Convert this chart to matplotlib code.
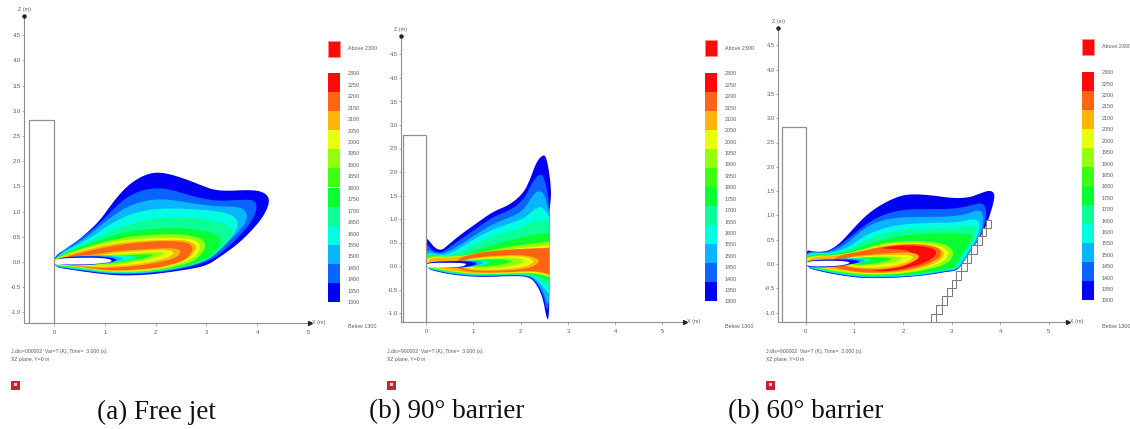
import numpy as np
import matplotlib
matplotlib.use("Agg")
import matplotlib.pyplot as plt
from matplotlib.patches import Rectangle, Polygon

# ---------- colour scale ----------
LEGEND_LABELS = ["2300", "2250", "2200", "2150", "2100", "2050", "2000", "1950", "1900", "1850", "1800",
                 "1750", "1700", "1650", "1600", "1550", "1500", "1450", "1400", "1350", "1300"]
LEGEND_COLORS = ["#ff0a0a", "#ff6414", "#ffb40a", "#e6ff0a", "#96ff0a", "#3cff14",
                 "#0aff32", "#0aff96", "#00ffe0", "#0ab4ff", "#0a64ff", "#0000f5"]
RED, ORANGE, AMBER, YELLOW, LIME, GREEN, GREEN2, MINT, CYAN, SKY, BLUE, NAVY = LEGEND_COLORS
X_TICKS = [0, 1, 2, 3, 4, 5]
Z_TICKS = [-1.0, -0.5, 0.0, 0.5, 1.0, 1.5, 2.0, 2.5, 3.0, 3.5, 4.0, 4.5]
CAPTIONS = ["(a) Free jet", "(b) 90° barrier", "(b) 60° barrier"]
FOOT_IDS = ["J.dis=000002", "J.dis=900002", "J.dis=900002"]
BUILDING_HEIGHT = [2.82, 2.79, 2.82]
BARRIER_X = [2.58, 2.69, 2.80, 2.90, 3.00, 3.10, 3.20, 3.31, 3.41, 3.52, 3.62, 3.72, 3.82]
BARRIER_Z = [-1.2, -1.03, -0.84, -0.66, -0.49, -0.32, -0.15, 0.02, 0.20, 0.39, 0.57, 0.74, 0.91]

# ---------- temperature contours (x, z in metres), outermost first ----------
free_jet = [
 (NAVY, [(0,.12),(.32,.30),(.64,.57),(.91,.83),(1.17,1.20),(1.43,1.50),(1.70,1.69),(1.96,1.78),(2.22,1.76),(2.55,1.66),(2.88,1.53),(3.14,1.43),(3.41,1.41),(3.80,1.43),(4.07,1.41),(4.23,1.30),(4.23,1.13),(4.10,.87),(3.87,.60),(3.60,.34),(3.28,.11),(3.01,-.07),(2.68,-.14),(2.22,-.21),(1.76,-.26),(1.24,-.27),(.71,-.21),(.32,-.15),(0,-.10)]),
 (BLUE, [(0,.11),(.78,.64),(1.30,1.19),(1.60,1.38),(1.89,1.46),(2.22,1.46),(2.68,1.32),(3.14,1.21),(3.61,1.23),(3.93,1.24),(4.01,1.10),(3.90,.80),(3.54,.39),(3.08,0),(2.22,-.20),(1.24,-.26),(.32,-.14),(0,-.09)]),
 (SKY, [(0,.105),(.58,.44),(1.04,.83),(1.43,1.10),(1.83,1.23),(2.22,1.25),(2.68,1.17),(3.21,1.10),(3.67,1.10),(3.80,.97),(3.80,.80),(3.54,.50),(3.21,.21),(3.01,.01),(2.22,-.19),(1.24,-.25),(.32,-.13),(0,-.085)]),
 (CYAN, [(0,.10),(.71,.47),(1.17,.80),(1.63,1.00),(2.16,1.07),(2.75,1.05),(3.28,1.00),(3.51,.93),(3.64,.80),(3.57,.57),(3.28,.24),(2.98,.01),(2.22,-.18),(1.24,-.24),(.32,-.12),(0,-.08)]),
 (MINT, [(0,.095),(.78,.44),(1.24,.67),(1.76,.83),(2.29,.89),(2.88,.87),(3.34,.77),(3.51,.67),(3.51,.50),(3.24,.21),(2.95,-.01),(2.22,-.17),(1.24,-.23),(.32,-.11),(0,-.075)]),
 (GREEN2, [(0,.09),(.84,.42),(1.43,.60),(2.03,.67),(2.62,.67),(3.08,.60),(3.31,.47),(3.21,.24),(2.91,.01),(2.22,-.16),(1.24,-.22),(.38,-.10),(0,-.07)]),
 (LIME, [(.01,.085),(.78,.35),(1.43,.50),(2.03,.55),(2.55,.55),(2.88,.48),(3.01,.34),(2.88,.11),(2.62,-.05),(1.89,-.19),(1.10,-.21),(.38,-.09),(.01,-.065)]),
 (YELLOW, [(.03,.08),(.78,.32),(1.37,.44),(2.03,.48),(2.55,.48),(2.82,.42),(2.90,.30),(2.78,.11),(2.52,-.03),(1.89,-.17),(1.10,-.20),(.38,-.08),(.03,-.06)]),
 (AMBER, [(.04,.08),(.84,.30),(1.43,.40),(2.09,.44),(2.58,.44),(2.76,.37),(2.82,.27),(2.68,.09),(2.45,-.03),(1.89,-.155),(1.04,-.19),(.38,-.07),(.04,-.05)]),
 (ORANGE, [(.12,.08),(.97,.29),(1.57,.38),(2.16,.42),(2.55,.40),(2.70,.34),(2.74,.24),(2.62,.07),(2.39,-.03),(1.89,-.14),(1.04,-.175),(.38,-.065),(.12,-.04)]),
 (AMBER, [(.25,.09),(.78,.15),(1.24,.22),(1.89,.26),(2.36,.28),(2.52,.22),(2.42,.09),(2.16,.01),(1.57,-.09),(.91,-.13),(.38,-.07),(.25,-.03)]),
 (YELLOW, [(.35,.09),(.84,.13),(1.3,.19),(1.89,.23),(2.25,.24),(2.38,.19),(2.25,.09),(2.0,.02),(1.5,-.06),(.91,-.10),(.45,-.06),(.35,-.02)]),
 (LIME, [(.45,.09),(.91,.12),(1.35,.16),(1.85,.19),(2.12,.2),(2.2,.17),(2.05,.1),(1.8,.04),(1.4,-.03),(.95,-.07),(.55,-.05),(.45,-.01)]),
 (GREEN2, [(.5,.09),(.98,.11),(1.4,.13),(1.75,.15),(1.98,.15),(1.85,.09),(1.6,.04),(1.3,-.01),(.98,-.04),(.6,-.04),(.5,-.01)]),
 (CYAN, [(.35,.125),(1.0,.14),(1.4,.12),(1.68,.10),(1.45,.04),(1.15,-.01),(.7,-.05),(.35,-.05)]),
 (SKY, [(.25,.115),(.95,.13),(1.2,.11),(1.42,.07),(1.2,.01),(.8,-.055),(.25,-.055)]),
 (NAVY, [(.05,.10),(.95,.12),(1.28,.05),(1.1,-.02),(.6,-.065),(.05,-.06)]),
 ("white", [(0,.07),(.71,.09),(1.07,.07),(1.16,.02),(1.04,-.02),(.64,-.05),(.18,-.05),(0,-.05)]),
]

barrier_90 = [
 (NAVY, [(0,.61),(.08,.52),(.19,.38),(.33,.33),(.47,.45),(.72,.66),(1.07,.91),(1.42,1.16),(1.77,1.30),(2.06,1.55),(2.20,1.84),(2.34,2.23),(2.49,2.38),(2.55,2.29),(2.62,1.90),(2.65,1.51),(2.61,1.19),(2.61,1.19),(2.61,-.72),(2.59,-1.18),(2.54,-1.07),(2.48,-.72),(2.37,-.44),(2.20,-.23),(1.85,-.21),(1.14,-.24),(.58,-.19),(.23,-.12),(0,-.05)]),
 (BLUE, [(0,.50),(.10,.37),(.19,.30),(.33,.28),(.47,.38),(.72,.56),(1.07,.80),(1.42,1.05),(1.77,1.18),(2.06,1.40),(2.23,1.75),(2.38,1.95),(2.49,1.93),(2.58,1.5),(2.61,1.19),(2.61,1.19),(2.61,-.72),(2.56,-1.0),(2.49,-.66),(2.37,-.40),(2.20,-.22),(1.85,-.195),(1.14,-.225),(.58,-.18),(.23,-.11),(0,-.045)]),
 (SKY, [(0,.37),(.20,.27),(.40,.27),(.72,.45),(1.07,.68),(1.42,.90),(1.77,1.03),(2.06,1.18),(2.25,1.50),(2.38,1.61),(2.50,1.55),(2.61,1.1),(2.61,1.1),(2.61,-.70),(2.57,-.85),(2.50,-.6),(2.37,-.36),(2.20,-.21),(1.85,-.185),(1.14,-.22),(.58,-.17),(.23,-.10),(0,-.04)]),
 (CYAN, [(0,.30),(.30,.22),(.55,.28),(.85,.47),(1.20,.68),(1.55,.83),(1.85,.93),(2.10,1.03),(2.30,1.22),(2.45,1.27),(2.61,1.05),(2.61,1.05),(2.61,-.6),(2.61,-.6),(2.52,-.5),(2.38,-.32),(2.20,-.20),(1.85,-.18),(1.14,-.21),(.58,-.16),(.23,-.09),(0,-.035)]),
 (MINT, [(0,.27),(.35,.2),(.7,.27),(1.0,.45),(1.4,.62),(1.75,.72),(2.05,.82),(2.3,.97),(2.61,.95),(2.61,.95),(2.61,-.45),(2.61,-.45),(2.5,-.38),(2.35,-.26),(2.2,-.19),(1.85,-.175),(1.14,-.20),(.58,-.15),(.23,-.08),(0,-.03)]),
 (GREEN2, [(0,.25),(.4,.19),(.8,.22),(1.2,.38),(1.6,.50),(2.0,.60),(2.3,.68),(2.61,.70),(2.61,.70),(2.61,-.30),(2.61,-.30),(2.4,-.22),(2.2,-.17),(1.85,-.17),(1.14,-.19),(.58,-.14),(.23,-.07),(0,-.025)]),
 (LIME, [(0,.22),(.5,.19),(.9,.24),(1.3,.32),(1.8,.42),(2.2,.48),(2.61,.52),(2.61,.52),(2.61,-.24),(2.61,-.24),(2.4,-.18),(2.2,-.155),(1.85,-.16),(1.14,-.18),(.58,-.13),(.23,-.06),(0,-.02)]),
 (YELLOW, [(0,.20),(.6,.19),(1.0,.24),(1.4,.30),(1.8,.36),(2.2,.40),(2.61,.44),(2.61,.44),(2.61,-.20),(2.61,-.20),(2.4,-.16),(2.2,-.14),(1.85,-.15),(1.14,-.17),(.58,-.12),(.23,-.05),(0,-.015)]),
 (AMBER, [(.05,.18),(.6,.18),(1.0,.24),(1.4,.28),(1.8,.33),(2.2,.36),(2.61,.40),(2.61,.40),(2.61,-.18),(2.61,-.18),(2.4,-.14),(2.2,-.12),(1.85,-.14),(1.14,-.16),(.58,-.11),(.23,-.04),(.05,-.01)]),
 (ORANGE, [(.65,.16),(1.06,.27),(1.50,.33),(2.1,.37),(2.61,.38),(2.61,.38),(2.61,-.19),(2.61,-.19),(2.45,-.13),(2.2,-.10),(1.7,-.13),(1.14,-.14),(.8,-.10),(.65,-.03)]),
 (AMBER, [(.80,.14),(1.2,.20),(1.7,.23),(2.1,.23),(2.35,.17),(2.4,.08),(2.2,-.05),(1.7,-.10),(1.14,-.11),(.8,-.07),(.70,.03)]),
 (YELLOW, [(.85,.13),(1.2,.18),(1.7,.21),(2.05,.20),(2.25,.14),(2.28,.07),(2.05,-.03),(1.7,-.07),(1.14,-.08),(.85,-.05),(.78,.04)]),
 (LIME, [(.9,.13),(1.3,.16),(1.7,.18),(2.0,.16),(2.1,.10),(1.9,.02),(1.6,-.03),(1.14,-.05),(.9,-.02),(.85,.04)]),
 (GREEN2, [(.95,.12),(1.3,.14),(1.65,.14),(1.85,.1),(1.6,.03),(1.2,-.02),(.95,.0),(.9,.05)]),
 (CYAN, [(.7,.115),(1.25,.12),(1.4,.08),(1.2,.02),(.95,-.01),(.7,-.02)]),
 (SKY, [(.5,.11),(1.1,.115),(1.25,.07),(1.05,.0),(.9,-.02),(.5,-.03)]),
 (NAVY, [(0,.09),(.85,.11),(1.12,.06),(.95,-.01),(.5,-.05),(0,-.03)]),
 ("white", [(0,.065),(.55,.07),(.82,.06),(.86,.03),(.75,-.02),(.4,-.04),(0,-.035)]),
]

barrier_60 = [
 (NAVY, [(0,.30),(.16,.25),(.36,.25),(.53,.30),(.74,.46),(.98,.73),(1.25,1.01),(1.53,1.21),(1.87,1.38),(2.14,1.44),(2.55,1.42),(3.04,1.35),(3.38,1.37),(3.58,1.45),(3.79,1.52),(3.89,1.45),(3.87,1.28),(3.80,1.04),(3.72,.80),(3.58,.53),(3.38,.25),(3.21,-.02),(3.10,-.14),(2.90,-.16),(2.62,-.21),(2.21,-.26),(1.66,-.29),(1.12,-.29),(.64,-.22),(.29,-.15),(0,-.07)]),
 (BLUE, [(0,.28),(.4,.23),(.7,.38),(1.0,.63),(1.3,.86),(1.6,1.02),(2.0,1.12),(2.5,1.13),(3.0,1.13),(3.4,1.2),(3.62,1.27),(3.72,1.15),(3.70,.85),(3.58,.53),(3.38,.25),(3.21,-.02),(3.1,-.13),(2.9,-.15),(2.62,-.20),(2.21,-.25),(1.66,-.28),(1.12,-.28),(.64,-.21),(.29,-.14),(0,-.065)]),
 (SKY, [(0,.26),(.45,.22),(.8,.38),(1.1,.65),(1.4,.85),(1.8,.95),(2.3,.97),(2.9,.97),(3.3,1.02),(3.55,1.12),(3.65,1.05),(3.66,.8),(3.56,.53),(3.38,.25),(3.21,-.01),(3.1,-.12),(2.9,-.14),(2.62,-.19),(2.21,-.245),(1.66,-.27),(1.12,-.27),(.64,-.20),(.29,-.13),(0,-.06)]),
 (CYAN, [(0,.24),(.5,.21),(.9,.35),(1.2,.58),(1.6,.74),(2.0,.82),(2.6,.85),(3.1,.85),(3.45,.93),(3.57,.88),(3.58,.72),(3.5,.50),(3.34,.25),(3.19,0),(3.09,-.11),(2.9,-.13),(2.62,-.18),(2.21,-.24),(1.66,-.26),(1.12,-.26),(.64,-.19),(.29,-.12),(0,-.055)]),
 (MINT, [(0,.22),(.55,.2),(.95,.32),(1.3,.52),(1.7,.65),(2.2,.72),(2.8,.74),(3.2,.76),(3.48,.78),(3.52,.68),(3.45,.48),(3.3,.25),(3.17,.02),(3.08,-.1),(2.9,-.12),(2.62,-.17),(2.21,-.23),(1.66,-.25),(1.12,-.25),(.64,-.18),(.29,-.11),(0,-.05)]),
 (GREEN2, [(0,.2),(.6,.19),(1.0,.28),(1.4,.45),(1.8,.55),(2.3,.62),(2.9,.62),(3.3,.62),(3.44,.6),(3.35,.4),(3.2,.2),(3.12,.04),(3.05,-.08),(2.9,-.11),(2.62,-.15),(2.21,-.22),(1.66,-.24),(1.12,-.24),(.64,-.17),(.29,-.10),(0,-.045)]),
 (LIME, [(0,.17),(.65,.18),(1.05,.26),(1.45,.40),(1.9,.47),(2.4,.48),(2.85,.42),(3.05,.28),(3.0,.08),(2.8,-.04),(2.4,-.14),(1.9,-.21),(1.2,-.23),(.64,-.16),(.29,-.09),(0,-.04)]),
 (YELLOW, [(0,.15),(.65,.17),(1.1,.27),(1.5,.38),(1.9,.43),(2.35,.44),(2.75,.38),(2.95,.26),(2.9,.1),(2.7,-.02),(2.3,-.13),(1.8,-.20),(1.2,-.21),(.7,-.14),(.3,-.08),(0,-.035)]),
 (AMBER, [(.05,.14),(.7,.17),(1.15,.27),(1.55,.37),(2.0,.42),(2.4,.42),(2.7,.36),(2.87,.24),(2.8,.1),(2.6,-.01),(2.3,-.11),(1.8,-.185),(1.2,-.195),(.75,-.13),(.3,-.07),(.05,-.03)]),
 (ORANGE, [(.6,.16),(1.2,.27),(1.6,.36),(2.1,.41),(2.5,.39),(2.73,.33),(2.8,.22),(2.72,.1),(2.5,0),(2.2,-.10),(1.7,-.17),(1.2,-.18),(.8,-.12),(.5,-.05)]),
 (RED, [(1.5,.33),(2.0,.39),(2.4,.37),(2.65,.31),(2.7,.22),(2.6,.1),(2.3,-.03),(1.8,-.15),(1.3,-.14),(1.6,-.12),(2.1,-.04),(2.3,.15),(2.1,.29),(1.7,.31)]),
 (AMBER, [(.8,.14),(1.3,.19),(1.8,.23),(2.2,.24),(2.36,.17),(2.25,.05),(1.8,-.09),(1.3,-.11),(.85,-.07),(.75,.03)]),
 (YELLOW, [(.85,.13),(1.3,.17),(1.8,.19),(2.1,.19),(2.24,.14),(2.1,.04),(1.7,-.06),(1.25,-.08),(.9,-.05),(.8,.03)]),
 (LIME, [(.9,.12),(1.35,.15),(1.7,.16),(1.95,.14),(2.0,.11),(1.8,.03),(1.4,-.03),(1,-.04),(.85,.03)]),
 (GREEN2, [(.95,.12),(1.35,.14),(1.65,.13),(1.8,.10),(1.55,.03),(1.2,-.02),(.95,-.01),(.88,.04)]),
 (CYAN, [(.7,.115),(1.2,.12),(1.38,.09),(1.2,.03),(.95,.0),(.7,-.02)]),
 (SKY, [(.5,.11),(1.1,.115),(1.26,.07),(1.1,.02),(.9,.0),(.5,-.04)]),
 (NAVY, [(0,.085),(.88,.1),(1.16,.06),(.98,0),(.5,-.07),(0,-.07)]),
 ("white", [(0,.06),(.6,.07),(.88,.05),(.91,.02),(.8,-.02),(.5,-.05),(0,-.05)]),
]
CONTOURS = [free_jet, barrier_90, barrier_60]

# ---------- layout (pixels of the figure, not data) ----------
W, H = 1130, 429
PANELS = [
 dict(x0=54, sx=50.8, z0=262, sz=50.4, left=24, right=310, top=16, bottom=322.5,
      sw=328, bar=(73, 302), above=(41, 57), foot=11),
 dict(x0=426, sx=47.3, z0=266, sz=47.0, left=401, right=685, top=36, bottom=322,
      sw=705, bar=(73, 301), above=(40, 56), foot=387),
 dict(x0=805.7, sx=48.6, z0=264, sz=48.6, left=778, right=1068, top=28, bottom=322,
      sw=1082, bar=(72, 300), above=(39, 55), foot=766),
]
CAPTION_X = [97, 369, 728]
GREY = "#8f8f8f"
SANS = "Liberation Sans"
TXT = "#5c5c5c"


def smooth(points, rounds=3):
    pts = np.asarray(points, float)
    for _ in range(rounds):
        nxt = np.roll(pts, -1, axis=0)
        q = 0.75 * pts + 0.25 * nxt
        r = 0.25 * pts + 0.75 * nxt
        pts = np.empty((2 * len(q), 2))
        pts[0::2], pts[1::2] = q, r
    return pts


fig = plt.figure(figsize=(W / 100, H / 100), dpi=100, facecolor="white")
page = fig.add_axes([0, 0, 1, 1], zorder=3)
page.set_xlim(0, W)
page.set_ylim(H, 0)
page.axis("off")
page.patch.set_alpha(0)

for i, p in enumerate(PANELS):
    ax = fig.add_axes([p["left"] / W, 1 - p["bottom"] / H,
                       (p["right"] - p["left"]) / W, (p["bottom"] - p["top"]) / H])
    ax.set_xlim((p["left"] - p["x0"]) / p["sx"], (p["right"] - p["x0"]) / p["sx"])
    ax.set_ylim((p["z0"] - p["bottom"]) / p["sz"], (p["z0"] - p["top"]) / p["sz"])
    for s in ("top", "right"):
        ax.spines[s].set_visible(False)
    for s in ("left", "bottom"):
        ax.spines[s].set_color(GREY)
        ax.spines[s].set_linewidth(0.8)
    ax.set_xticks(X_TICKS)
    ax.set_xticklabels([str(v) for v in X_TICKS], fontsize=4.2, family=SANS, color=TXT)
    ax.set_yticks(Z_TICKS)
    ax.set_yticklabels([f"{v:.1f}" for v in Z_TICKS], fontsize=4.2, family=SANS, color=TXT)
    ax.tick_params(axis="x", length=2.2, width=0.5, color=GREY, pad=3)
    ax.tick_params(axis="y", length=1.5, width=0.5, color=GREY, pad=0.6)

    for colour, pts in CONTOURS[i]:
        ax.add_patch(Polygon(smooth(pts), closed=True, facecolor=colour, edgecolor="none", zorder=2))

    xmin, zmin = ax.get_xlim()[0], ax.get_ylim()[0]
    ax.add_patch(Rectangle((-0.49, zmin), 0.49, BUILDING_HEIGHT[i] - zmin, facecolor="white",
                           edgecolor=GREY, linewidth=0.9, zorder=3))
    if i == 2:
        for k in range(len(BARRIER_X) - 1):
            ax.add_patch(Rectangle((BARRIER_X[k], BARRIER_Z[k]), BARRIER_X[k + 1] - BARRIER_X[k],
                                   BARRIER_Z[k + 1] - BARRIER_Z[k], facecolor="white",
                                   edgecolor="#777777", linewidth=0.7, zorder=4))

    # axis ends
    page.plot([p["left"]], [p["top"]], "o", ms=2.2, color="#222222")
    page.plot([p["right"]], [p["bottom"]], ">", ms=2.8, color="#222222")
    page.text(p["left"], p["top"] - 6, "Z (m)", fontsize=3.9, family=SANS, color=TXT, ha="center", va="center")
    page.text(p["right"] + 2, p["bottom"], "X (m)", fontsize=3.9, family=SANS, color=TXT, ha="left", va="center")

    # colour legend
    sw, w = p["sw"], 12
    top, bot = p["bar"]
    edges = np.linspace(top, bot, len(LEGEND_COLORS) + 1)
    for c, y0, y1 in zip(LEGEND_COLORS, edges[:-1], edges[1:]):
        page.add_patch(Rectangle((sw, y0), w, y1 - y0, facecolor=c, edgecolor="none"))
    a0, a1 = p["above"]
    page.add_patch(Rectangle((sw, a0), w, a1 - a0, facecolor="#ff0a0a", edgecolor="#ff8a8a", linewidth=0.6))
    lx = sw + w + 8
    page.text(lx, (a0 + a1) / 2, "Above 2300", fontsize=3.9, family=SANS, color=TXT, va="center")
    for lab, y in zip(LEGEND_LABELS, np.linspace(top, bot, len(LEGEND_LABELS))):
        page.text(lx, y + 0.8, lab, fontsize=3.9, family=SANS, color=TXT, va="center")
    page.text(lx, 326.5, "Below 1300", fontsize=3.9, family=SANS, color=TXT, va="center")

    # footer and icon
    fx = p["foot"]
    page.text(fx, 352, f"{FOOT_IDS[i]}  Var=T (K), Time=  3.000 (s).", fontsize=3.7, family=SANS, color=TXT, va="center")
    page.text(fx, 359.5, "XZ plane, Y=0 m", fontsize=3.7, family=SANS, color=TXT, va="center")
    page.add_patch(Rectangle((fx, 381), 9, 9, facecolor="#c8242c", edgecolor="none"))
    page.add_patch(Rectangle((fx + 3, 383), 3, 2.5, facecolor="#f4c8c8", edgecolor="none"))

    page.text(CAPTION_X[i], 412, CAPTIONS[i], fontsize=19.5, family="Liberation Serif", color="#111111",
              ha="left", va="center")

fig.savefig("out.png", dpi=100, facecolor="white")
